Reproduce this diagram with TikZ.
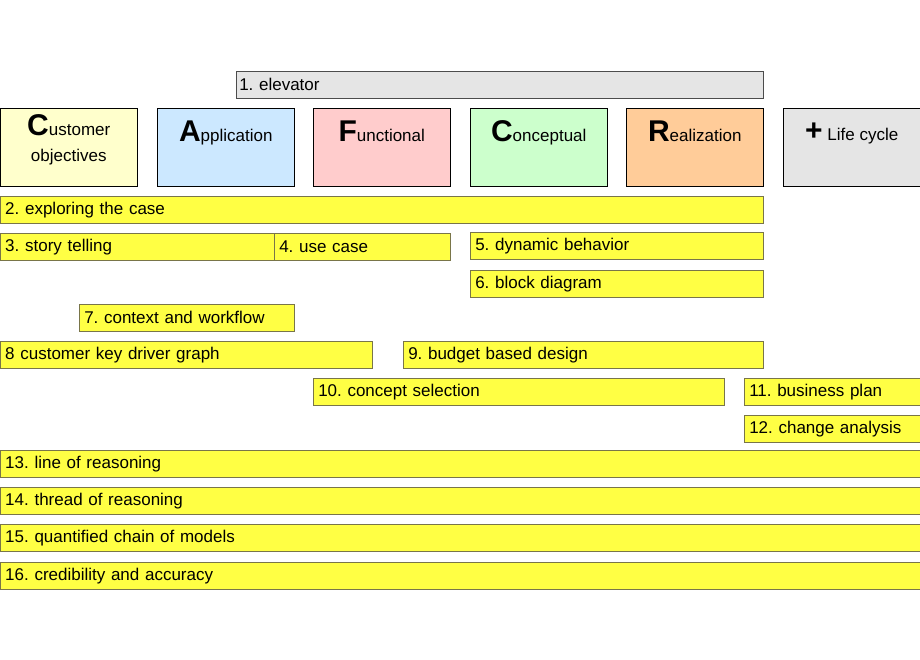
\documentclass[tikz,border=0pt]{standalone}
\usepackage{fontspec}
\setmainfont{Liberation Sans}
\frenchspacing
\begin{document}
\begin{tikzpicture}[x=1pt,y=-1pt,
  bx/.style={draw=black!60!yellow, fill={rgb,255:red,255;green,255;blue,68}, line width=0.5pt, anchor=north west, inner sep=0pt, minimum height=27pt, font=\fontsize{17}{19}\selectfont, align=left},
  hd/.style={draw=black, line width=0.5pt, anchor=north west, minimum width=137pt, minimum height=78pt, inner sep=0pt, font=\fontsize{17}{26}\selectfont, align=center}]
\useasboundingbox (0,0) rectangle (920,660);
\newcommand{\ybox}[4]{\node[bx, minimum width=#3pt, text width=#3pt] (#1) at (#2) {\hspace*{5pt}#4};}
\newcommand{\hdletter}[1]{{\fontsize{30}{30}\selectfont\bfseries #1}}
\node[bx, fill=black!10, draw=black!70, minimum width=527pt, text width=527pt] (e1) at (236,71) {\hspace*{3pt}1. elevator};
\node[hd, fill={rgb,255:red,255;green,255;blue,204}] (hC) at (0,108) {\hdletter{C}ustomer\\objectives\\[-8pt]};
\node[hd, fill={rgb,255:red,204;green,232;blue,255}] (hA) at (157,108) {\hdletter{A}pplication\\[6pt]};
\node[hd, fill={rgb,255:red,255;green,204;blue,204}] (hF) at (313,108) {\hdletter{F}unctional\\[6pt]};
\node[hd, fill={rgb,255:red,204;green,255;blue,204}] (hC2) at (470,108) {\hdletter{C}onceptual\\[6pt]};
\node[hd, fill={rgb,255:red,255;green,204;blue,153}] (hR) at (626,108) {\hdletter{R}ealization\\[6pt]};
\node[hd, fill=black!10] (hL) at (783,108) {\hdletter{+} Life cycle\\[6pt]};
\ybox{b2}{0,196}{763}{2. exploring the case}
\ybox{b3}{0,233}{274}{3. story telling}
\ybox{b4}{274,233}{176}{4. use case}
\ybox{b5}{470,232}{293}{5. dynamic behavior}
\ybox{b6}{470,270}{293}{6. block diagram}
\ybox{b7}{79,304}{215}{7. context and workflow}
\ybox{b8}{0,341}{372}{8 customer key driver graph}
\ybox{b9}{403,341}{360}{9. budget based design}
\ybox{b10}{313,378}{411}{10. concept selection}
\ybox{b11}{744,378}{176}{11. business plan}
\ybox{b12}{744,415}{176}{12. change analysis}
\ybox{b13}{0,450}{920}{13. line of reasoning}
\ybox{b14}{0,487}{920}{14. thread of reasoning}
\ybox{b15}{0,524}{920}{15. quantified chain of models}
\ybox{b16}{0,562}{920}{16. credibility and accuracy}
\end{tikzpicture}
\end{document}
